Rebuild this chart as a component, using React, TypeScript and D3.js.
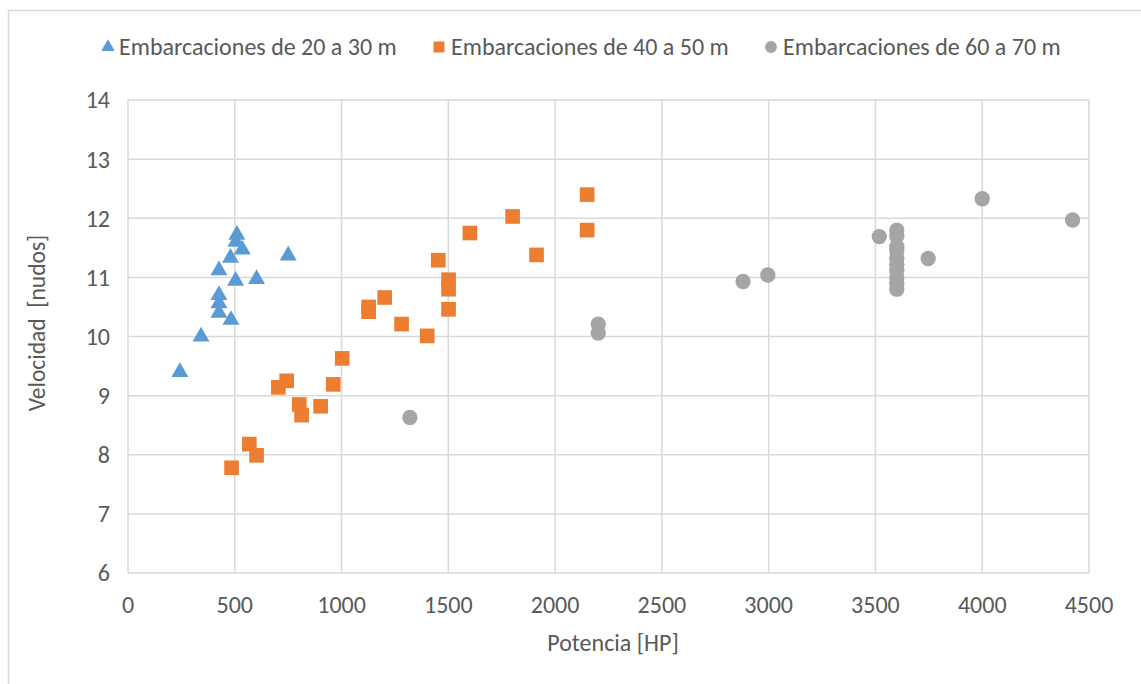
import React from "react";
import * as d3 from "d3";

const seriesNames = ["Embarcaciones de 20 a 30 m", "Embarcaciones de 40 a 50 m", "Embarcaciones de 60 a 70 m"];
const seriesColors = ["#5B9BD5", "#ED7D31", "#A5A5A5"];

const boats20to30: [number, number][] = [
  [243, 9.4], [342, 10.0], [426, 11.12], [426, 10.7], [426, 10.56], [426, 10.4],
  [482, 10.28], [480, 11.33], [504, 10.94], [602, 10.97], [750, 11.37],
  [510, 11.72], [505, 11.6], [535, 11.47],
];
const boats40to50: [number, number][] = [
  [485, 7.78], [568, 8.18], [602, 7.99], [704, 9.14], [743, 9.25], [802, 8.85],
  [813, 8.67], [902, 8.82], [961, 9.19], [1003, 9.63], [1127, 10.5], [1127, 10.42],
  [1202, 10.66], [1281, 10.21], [1401, 10.01], [1453, 11.29], [1501, 10.96],
  [1501, 10.8], [1501, 10.46], [1601, 11.75], [1801, 12.03], [1913, 11.38],
  [2150, 12.4], [2150, 11.8],
];
const boats60to70: [number, number][] = [
  [1320, 8.63], [2202, 10.21], [2202, 10.06], [2880, 10.93], [2996, 11.04],
  [3518, 11.69], [3600, 11.8], [3600, 11.7], [3600, 11.52], [3600, 11.45],
  [3600, 11.32], [3600, 11.22], [3600, 11.12], [3600, 11.0], [3600, 10.9],
  [3600, 10.8], [3747, 11.32], [4000, 12.33], [4423, 11.97],
];
const xTicks = [0, 500, 1000, 1500, 2000, 2500, 3000, 3500, 4000, 4500];
const yTicks = [6, 7, 8, 9, 10, 11, 12, 13, 14];
const xTitle = "Potencia [HP]";
const yTitle = "Velocidad  [nudos]";

const FONT = "Carlito, Calibri, Lato, sans-serif";
const TEXT = "#595959";
const GRID = "#D9D9D9";

export default function App() {
  const W = 1141, H = 684;
  const x = d3.scaleLinear().domain([0, 4500]).range([128, 1089]);
  const y = d3.scaleLinear().domain([6, 14]).range([573, 100]);
  const tri = d3.symbol().type(d3.symbolTriangle).size(125)()!;
  const sq = d3.symbol().type(d3.symbolSquare).size(215)()!;
  const circ = d3.symbol().type(d3.symbolCircle).size(185)()!;
  const triSmall = d3.symbol().type(d3.symbolTriangle).size(80)()!;
  const sqSmall = d3.symbol().type(d3.symbolSquare).size(120)()!;
  const circSmall = d3.symbol().type(d3.symbolCircle).size(110)()!;

  const legend = [
    { x: 108, tx: 119, path: triSmall },
    { x: 439, tx: 451, path: sqSmall },
    { x: 771, tx: 783, path: circSmall },
  ];

  return (
    <svg width={W} height={H} style={{ position: "absolute", left: 0, top: 0, background: "#fff" }} fontFamily={FONT}>
      <rect x={0} y={0} width={W} height={H} fill="#fff" />
      <line x1={8.5} x2={8.5} y1={10} y2={H} stroke={GRID} strokeWidth={1.5} />
      <line x1={8} x2={W} y1={10.5} y2={10.5} stroke={GRID} strokeWidth={1.5} />
      {yTicks.map((t) => (
        <g key={"y" + t}>
          <line x1={x(0)} x2={x(4500)} y1={y(t)} y2={y(t)} stroke={GRID} strokeWidth={1.5} />
          <text x={110} y={y(t)} dy="0.35em" textAnchor="end" fontSize={24} fill={TEXT}>{t}</text>
        </g>
      ))}
      {xTicks.map((t) => (
        <g key={"x" + t}>
          <line x1={x(t)} x2={x(t)} y1={y(6)} y2={y(14)} stroke={GRID} strokeWidth={1.5} />
          <text x={x(t)} y={605} dy="0.35em" textAnchor="middle" fontSize={24} fill={TEXT}>{t}</text>
        </g>
      ))}
      <text x={613} y={643} dy="0.35em" textAnchor="middle" fontSize={24} fill={TEXT}>{xTitle}</text>
      <text transform={`translate(37,${323}) rotate(-90)`} dy="0.35em" textAnchor="middle" fontSize={23.5} fill={TEXT} style={{ whiteSpace: "pre" }}>{yTitle}</text>

      {boats60to70.map((d, i) => (
        <path key={"c" + i} d={circ} transform={`translate(${x(d[0])},${y(d[1])})`} fill={seriesColors[2]} />
      ))}
      {boats40to50.map((d, i) => (
        <path key={"s" + i} d={sq} transform={`translate(${x(d[0])},${y(d[1])})`} fill={seriesColors[1]} />
      ))}
      {boats20to30.map((d, i) => (
        <path key={"t" + i} d={tri} transform={`translate(${x(d[0])},${y(d[1])})`} fill={seriesColors[0]} />
      ))}

      {legend.map((l, i) => (
        <g key={"l" + i}>
          <path d={l.path} transform={`translate(${l.x},47)`} fill={seriesColors[i]} />
          <text x={l.tx} y={47} dy="0.35em" fontSize={24} fill={TEXT}>{seriesNames[i]}</text>
        </g>
      ))}
    </svg>
  );
}
